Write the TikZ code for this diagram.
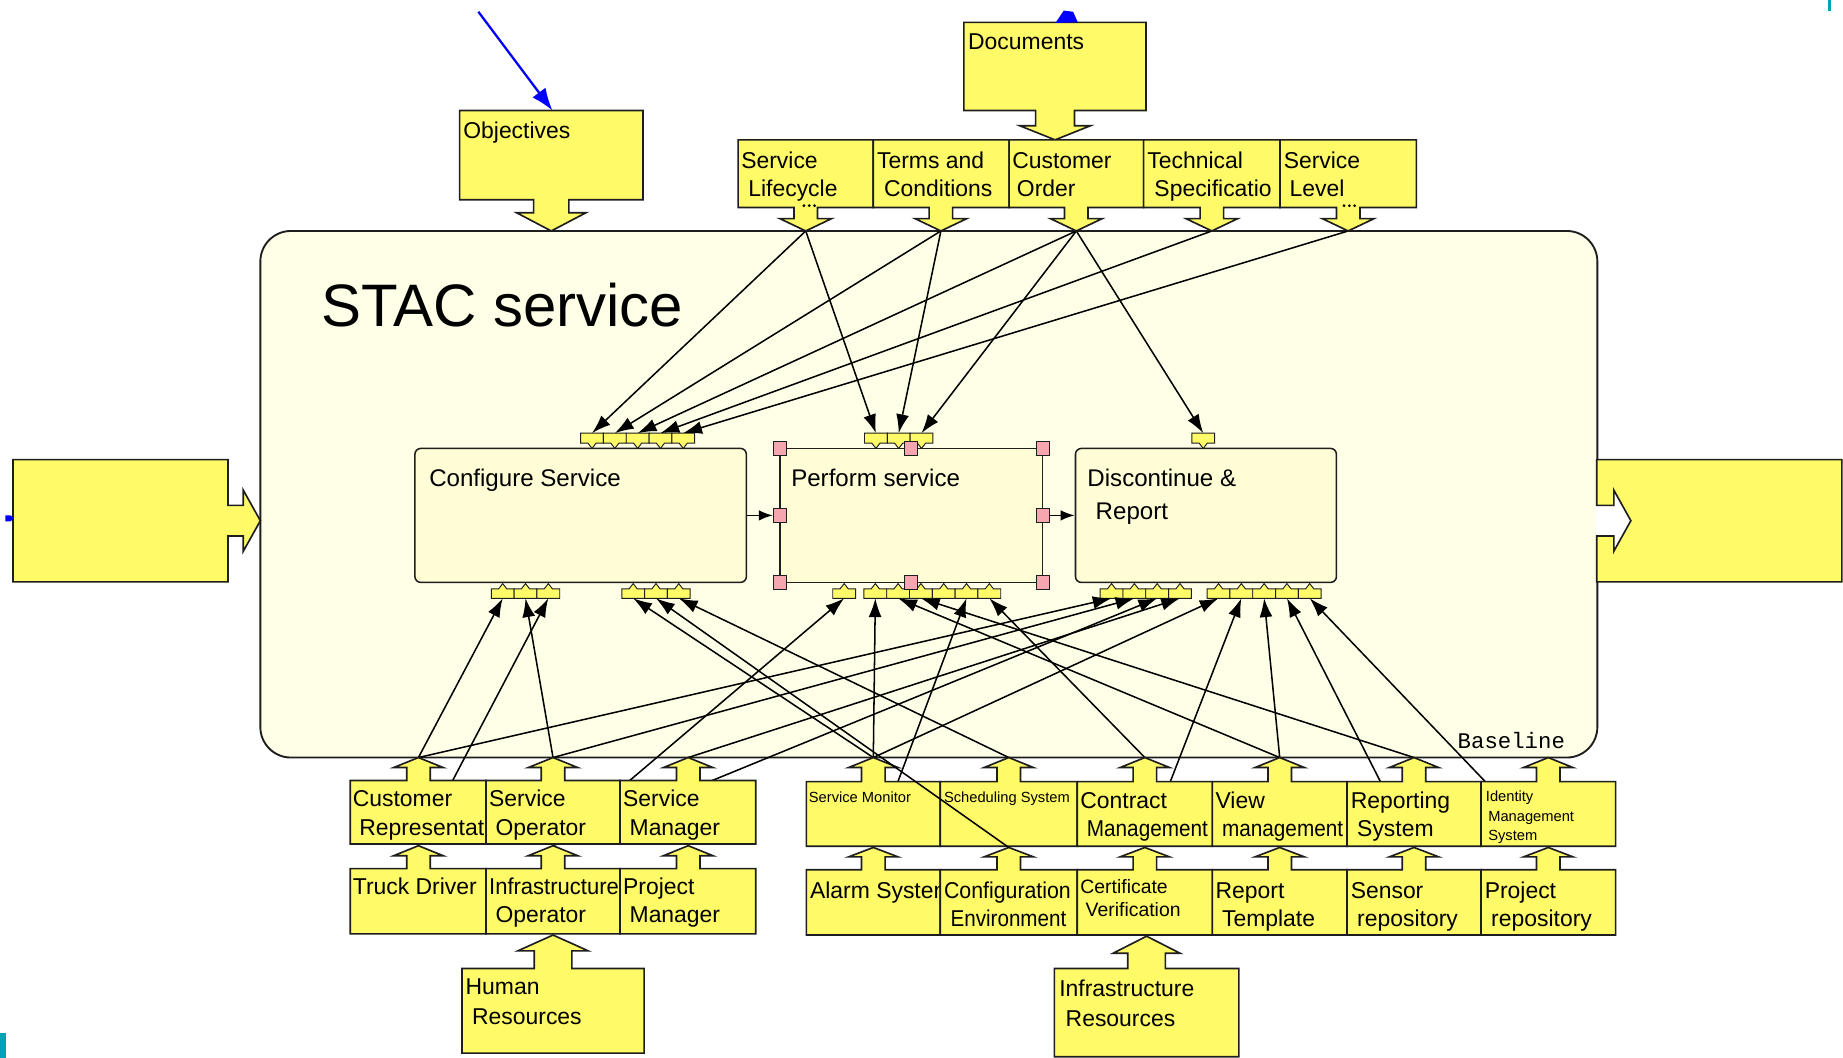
\documentclass[tikz,border=0pt]{standalone}
\usepackage{fontspec}
\setmainfont{Liberation Sans}
\newfontfamily\codefont{Liberation Mono}
\usetikzlibrary{arrows.meta}

\definecolor{boxyellow}{RGB}{255,250,104}
\definecolor{framebg}{RGB}{255,255,232}
\definecolor{actbg}{RGB}{255,253,214}
\definecolor{handlepink}{RGB}{245,166,175}
\definecolor{markteal}{RGB}{0,163,178}
\definecolor{edgegray}{RGB}{30,30,30}

\tikzset{
  yshape/.style={fill=boxyellow, draw=edgegray, line width=1.4pt, line join=miter},
  portshape/.style={fill=boxyellow, draw=edgegray, line width=0.8pt},
  lbl/.style={inner sep=0pt, anchor=base west, font=\fontsize{19.5}{23}\selectfont},
  actlbl/.style={inner sep=0pt, anchor=base west, font=\fontsize{20.5}{24}\selectfont},
  tinylbl/.style={inner sep=0pt, anchor=base west, font=\fontsize{12.5}{15}\selectfont},
  midlbl/.style={inner sep=0pt, anchor=base west, font=\fontsize{16.5}{20}\selectfont},
  conn/.style={draw=black, line width=1.3pt, -{Latex[length=16pt,width=11pt]}},
  flow/.style={draw=black, line width=1.5pt, -{Latex[length=12pt,width=9pt]}},
  feed/.style={draw=blue, line width=1.9pt, -{Latex[length=19pt,width=14pt]}},
  act/.style={draw=edgegray, line width=1.3pt, fill=actbg, rounded corners=5pt, inner sep=0pt, minimum height=114pt},
  handle/.style={draw=edgegray, fill=handlepink, line width=0.8pt, minimum width=11pt, minimum height=12pt, inner sep=0pt},
}

% horizontal squeeze for long words
\newcommand{\sq}[2]{\scalebox{#1}[1]{#2}}

% box x1,y1,x2,y2 with a block arrow on top: centre x, tip y, head base y, head half width, shaft half width
\newcommand{\UpBox}[9]{%
  \draw[yshape] (#1,#2) -- ({#5-#9},#2) -- ({#5-#9},#7) -- ({#5-#8},#7) -- (#5,#6)
    -- ({#5+#8},#7) -- ({#5+#9},#7) -- ({#5+#9},#2) -- (#3,#2) -- (#3,#4) -- (#1,#4) -- cycle;}
% box with a block arrow below it
\newcommand{\DownBox}[9]{%
  \draw[yshape] (#1,#2) -- (#3,#2) -- (#3,#4) -- ({#5+#9},#4) -- ({#5+#9},#7) -- ({#5+#8},#7)
    -- (#5,#6) -- ({#5-#8},#7) -- ({#5-#9},#7) -- ({#5-#9},#4) -- (#1,#4) -- cycle;}

% ports above an activity: prefix, left x, count
\newcommand{\PortsTop}[3]{%
  \foreach \k in {1,...,#3}{%
    \pgfmathsetmacro\px{#2+(\k-0.5)*19.4}
    \draw[portshape] ({\px-9.7},368.5) -- ({\px+9.7},368.5) -- ({\px+9.7},377) -- ({\px+3.5},377)
      -- (\px,381.5) -- ({\px-3.5},377) -- ({\px-9.7},377) -- cycle;
    \coordinate (#1-\k) at (\px,368.5);
  }}
% ports below an activity
\newcommand{\PortsBottom}[3]{%
  \foreach \k in {1,...,#3}{%
    \pgfmathsetmacro\px{#2+(\k-0.5)*19.4}
    \draw[portshape] ({\px-9.7},509) -- ({\px+9.7},509) -- ({\px+9.7},501) -- ({\px+3.5},501)
      -- (\px,496.5) -- ({\px-3.5},501) -- ({\px-9.7},501) -- cycle;
    \coordinate (#1-\k) at (\px,509);
  }}

\begin{document}
\begin{tikzpicture}[x=1pt,y=-1pt]
\useasboundingbox (0,0) rectangle (1568,900);

% tips of the block arrows
\coordinate (sl) at (685.5,196.5);
\coordinate (tc) at (800.5,196.5);
\coordinate (co) at (915.7,196.5);
\coordinate (ts) at (1031,196.5);
\coordinate (sv) at (1147,196.5);
\foreach \n/\x in {cr/356,so/470.5,sm/585.5,mon/743,sch/858.25,cm/974,vm/1088.75,rs/1203,im/1317.25}
  \coordinate (\n) at (\x,644.5);
\foreach \n/\x in {td/356,io/470.5,pm/585.5}
  \coordinate (\n) at (\x,719.5);
\foreach \n/\x in {al/743,ce/858.25,cv/974,rt/1088.75,sr/1203,pr/1317.25}
  \coordinate (\n) at (\x,721);
\coordinate (objfeed) at (407,10);
\coordinate (objtop) at (470,94);

% service frame
\node[draw=edgegray, fill=framebg, line width=1.6pt, rounded corners=26pt,
      minimum width=1137.5pt, minimum height=448pt, inner sep=0pt] (stac) at (790.25,420.5) {};
\node[inner sep=0pt, anchor=base west, font=\fontsize{51}{51}\selectfont] (stac-t) at (273,278) {STAC service};
\node[inner sep=0pt, anchor=base west, font=\codefont\fontsize{19}{19}\selectfont] (base-t) at (1240,637) {Baseline};

% activities
\node[act, minimum width=282pt] (conf) at (494,438.5) {};
\node[act, rounded corners=0pt, minimum width=223.5pt] (perf) at (775.25,438.5) {};
\node[act, minimum width=222pt] (disc) at (1026,438.5) {};
\node[actlbl] (conf-t) at (365,414) {Configure Service};
\node[actlbl] (perf-t) at (673,414) {Perform service};
\node[actlbl] (disc-t) at (925,414) {Discontinue \&};
\node[actlbl] (disc-u) at (932,442) {Report};

% ports
\PortsTop{ct}{494}{5}
\PortsTop{pt}{735.5}{3}
\PortsTop{dt}{1014}{1}
\PortsBottom{cbl}{418}{3}
\PortsBottom{cbr}{529}{3}
\PortsBottom{pbs}{708.5}{1}
\PortsBottom{pb}{735}{6}
\PortsBottom{dbl}{936}{4}
\PortsBottom{dbr}{1027}{5}

% selection handles
\node[handle] (h1) at (663.5,381.5) {};
\node[handle] (h2) at (775.25,381.5) {};
\node[handle] (h3) at (887,381.5) {};
\node[handle] (h4) at (663.5,438.5) {};
\node[handle] (h5) at (887,438.5) {};
\node[handle] (h6) at (663.5,495.5) {};
\node[handle] (h7) at (775.25,495.5) {};
\node[handle] (h8) at (887,495.5) {};

\draw[flow] (conf.east) -- (h4.west);
\draw[flow] (h5.east) -- (disc.west);

% controls
\draw[conn] (sl) -- (ct-1);
\draw[conn] (sl) -- (pt-1);
\draw[conn] (tc) -- (ct-2);
\draw[conn] (tc) -- (pt-2);
\draw[conn] (co) -- (ct-3);
\draw[conn] (co) -- (pt-3);
\draw[conn] (co) -- (dt-1);
\draw[conn] (ts) -- (ct-4);
\draw[conn] (sv) -- (ct-5);

% mechanisms
\draw[conn] (cr) -- (cbl-1);
\draw[conn] (so) -- (cbl-2);
\draw[conn] (td) -- (cbl-3);
\draw[conn] (mon) -- (cbr-1);
\draw[conn] (sch) -- (cbr-3);
\draw[conn] (io) -- (pbs-1);
\draw[conn] (mon) -- (pb-1);
\draw[conn] (vm) -- (pb-2);
\draw[conn] (rs) -- (pb-3);
\draw[conn] (al) -- (pb-5);
\draw[conn] (cm) -- (pb-6);
\draw[conn] (cr) -- (dbl-1);
\draw[conn] (so) -- (dbl-2);
\draw[conn] (io) -- (dbl-3);
\draw[conn] (sm) -- (dbl-4);
\draw[conn] (mon) -- (dbr-1);
\draw[conn] (cv) -- (dbr-2);
\draw[conn] (vm) -- (dbr-3);
\draw[conn] (sr) -- (dbr-4);
\draw[conn] (pr) -- (dbr-5);

% objectives and documents
\DownBox{391}{94}{547}{170}{469}{196.5}{181}{29.5}{15}
\node[lbl] (obj-t) at (394,118) {Objectives};
\DownBox{820}{19}{975}{94}{897.6}{119}{107}{30}{16.5}
\node[lbl] (doc-t) at (823.5,42.5) {Documents};

\DownBox{628}{119}{743}{176.5}{685.5}{196.5}{186}{22}{10}
\node[lbl] (sl-a) at (630.5,143.5) {Service};
\node[lbl] (sl-b) at (636.5,167.5) {Lifecycle};
\DownBox{743}{119}{858.5}{176.5}{800.5}{196.5}{186}{22}{10}
\node[lbl] (tc-a) at (746,143.5) {Terms and};
\node[lbl] (tc-b) at (752,167.5) {Conditions};
\DownBox{858.5}{119}{973}{176.5}{915.7}{196.5}{186}{22}{10}
\node[lbl] (co-a) at (861,143.5) {Customer};
\node[lbl] (co-b) at (865,167.5) {Order};
\DownBox{973}{119}{1089}{176.5}{1031}{196.5}{186}{22}{10}
\node[lbl] (ts-a) at (976,143.5) {Technical};
\node[lbl] (ts-b) at (982,167.5) {Specificatio};
\DownBox{1089}{119}{1205}{176.5}{1147}{196.5}{186}{22}{10}
\node[lbl] (sv-a) at (1092,143.5) {Service};
\node[lbl] (sv-b) at (1097,167.5) {Level};
\foreach \dx in {-4.5,0,4.5}{
  \fill (688.5+\dx,175) circle (1.3pt);
  \fill (1148+\dx,175) circle (1.3pt);
}

% human resources
\UpBox{298}{664}{413.5}{718}{356}{644.5}{653}{21}{10}
\node[lbl] (cr-a) at (300,686.5) {Customer};
\node[lbl] (cr-b) at (305.5,710.5) {Representati};
\UpBox{413.5}{664}{527.5}{718}{470.5}{644.5}{653}{21}{10}
\node[lbl] (so-a) at (416,686.5) {Service};
\node[lbl] (so-b) at (421.5,710.5) {Operator};
\UpBox{527.5}{664}{643}{718}{585.5}{644.5}{653}{21}{10}
\node[lbl] (sm-a) at (530,686.5) {Service};
\node[lbl] (sm-b) at (535.5,710.5) {Manager};

\UpBox{298}{739}{413.5}{794.5}{356}{719.5}{728}{21}{10}
\node[lbl] (td-a) at (300,761) {Truck Driver};
\UpBox{413.5}{739}{527.5}{794.5}{470.5}{719.5}{728}{21}{10}
\node[lbl] (io-a) at (416,761) {\sq{0.96}{Infrastructure}};
\node[lbl] (io-b) at (421.5,785) {Operator};
\UpBox{527.5}{739}{643}{794.5}{585.5}{719.5}{728}{21}{10}
\node[lbl] (pm-a) at (530,761) {Project};
\node[lbl] (pm-b) at (535.5,785) {Manager};

\UpBox{393}{824}{548}{896}{470.5}{795.5}{809}{30}{16}
\node[lbl] (hr-a) at (396,846.5) {Human};
\node[lbl] (hr-b) at (401.5,872) {Resources};

% infrastructure resources
\UpBox{686}{665}{800}{720}{743}{644.5}{653}{21}{10}
\node[tinylbl] (mon-a) at (688,682.5) {Service Monitor};
\UpBox{800}{665}{916.5}{720}{858.25}{644.5}{653}{21}{10}
\node[tinylbl] (sch-a) at (803,682.5) {Scheduling System};
\UpBox{916.5}{665}{1031.5}{720}{974}{644.5}{653}{21}{10}
\node[lbl] (cm-a) at (919,688) {Contract};
\node[lbl] (cm-b) at (924.5,712) {\sq{0.905}{Management}};
\UpBox{1031.5}{665}{1146}{720}{1088.75}{644.5}{653}{21}{10}
\node[lbl] (vm-a) at (1034,688) {View};
\node[lbl] (vm-b) at (1039.5,712) {\sq{0.905}{management}};
\UpBox{1146}{665}{1260}{720}{1203}{644.5}{653}{21}{10}
\node[lbl] (rs-a) at (1149,688) {Reporting};
\node[lbl] (rs-b) at (1154.5,712) {System};
\UpBox{1260}{665}{1374.5}{720}{1317.25}{644.5}{653}{21}{10}
\node[tinylbl] (im-a) at (1264,682) {Identity};
\node[tinylbl] (im-b) at (1266,699) {Management};
\node[tinylbl] (im-c) at (1266,715) {System};

\UpBox{686}{740}{800}{795.5}{743}{721}{729}{21}{10}
\node[lbl] (al-a) at (689,764) {Alarm System};
\UpBox{800}{740}{916.5}{795.5}{858.25}{721}{729}{21}{10}
\node[lbl] (ce-a) at (803,764) {\sq{0.93}{Configuration}};
\node[lbl] (ce-b) at (808.5,788) {\sq{0.9}{Environment}};
\UpBox{916.5}{740}{1031.5}{795.5}{974}{721}{729}{21}{10}
\node[midlbl] (cv-a) at (919,760) {Certificate};
\node[midlbl] (cv-b) at (923.5,779.5) {Verification};
\UpBox{1031.5}{740}{1146}{795.5}{1088.75}{721}{729}{21}{10}
\node[lbl] (rt-a) at (1034,764) {Report};
\node[lbl] (rt-b) at (1039.5,788) {Template};
\UpBox{1146}{740}{1260}{795.5}{1203}{721}{729}{21}{10}
\node[lbl] (sr-a) at (1149,764) {Sensor};
\node[lbl] (sr-b) at (1154.5,788) {repository};
\UpBox{1260}{740}{1374.5}{795.5}{1317.25}{721}{729}{21}{10}
\node[lbl] (pr-a) at (1263,764) {Project};
\node[lbl] (pr-b) at (1268.5,788) {repository};

\UpBox{897}{824}{1054}{899}{975.5}{796.5}{811}{28.5}{16}
\node[lbl] (ir-a) at (901,848) {Infrastructure};
\node[lbl] (ir-b) at (906.5,873.5) {Resources};

% this link runs over the boxes
\draw[conn] (ce) -- (cbr-2);

% input and output
\draw[yshape] (11,391) -- (194,391) -- (194,430) -- (207,430) -- (207,417) -- (221.5,443)
  -- (207,469) -- (207,456) -- (194,456) -- (194,495) -- (11,495) -- cycle;
\fill[white] (1357.5,430) -- (1373,430) -- (1373,417) -- (1387.5,443) -- (1373,469) -- (1373,456) -- (1357.5,456) -- cycle;
\draw[yshape] (1358.5,391) -- (1567,391) -- (1567,495) -- (1358.5,495) -- (1358.5,456) -- (1373,456)
  -- (1373,469) -- (1387.5,443) -- (1373,417) -- (1373,430) -- (1358.5,430) -- cycle;

% feeds from outside
\draw[feed] (objfeed) -- (objtop);
\fill[blue] (898,19.5) -- (917,19) -- (913,10) -- (905,9) -- cycle;
\fill[blue] (4.5,438.5) -- (9,438.5) -- (12,441) -- (9,443.5) -- (4.5,443.5) -- cycle;

% edge marks
\fill[markteal] (1555,0) rectangle (1557.5,9);
\fill[markteal] (0,879) rectangle (4.8,900);
\end{tikzpicture}
\end{document}
